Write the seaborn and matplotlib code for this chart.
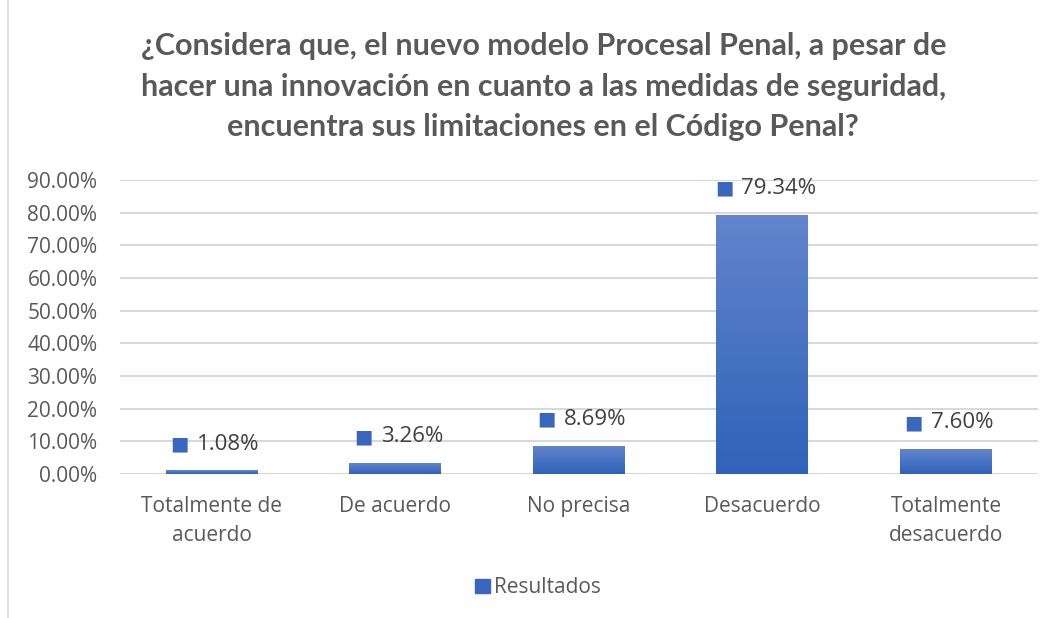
import numpy as np
import pandas as pd
import matplotlib
matplotlib.use("Agg")
import matplotlib.pyplot as plt
import seaborn as sns

# data
categorias = ["Totalmente de\nacuerdo", "De acuerdo", "No precisa", "Desacuerdo", "Totalmente\ndesacuerdo"]
resultados = [0.0108, 0.0326, 0.0869, 0.7934, 0.0760]
yticks = [0.0, 0.1, 0.2, 0.3, 0.4, 0.5, 0.6, 0.7, 0.8, 0.9]
titulo = ("¿Considera que, el nuevo modelo Procesal Penal, a pesar de\n"
          "hacer una innovación en cuanto a las medidas de seguridad,\n"
          "encuentra sus limitaciones en el Código Penal?")

sns.set_style("white")
plt.rcParams['font.family'] = ['Open Sans', 'DejaVu Sans']

df = pd.DataFrame({'Categoria': categorias, 'Resultados': resultados})
azul = '#4472C4'
gris = '#595959'

fig = plt.figure(figsize=(10.59, 6.18), dpi=100)
ax = fig.add_axes([0.113, 0.233, 0.867, 0.476])

sns.barplot(data=df, x='Categoria', y='Resultados', color=azul, width=0.5,
            saturation=1, ax=ax, zorder=3)

# gradient fill on the bars (lighter on top, darker at the bottom)
grad = np.linspace(0, 1, 256).reshape(-1, 1)
cmap = matplotlib.colors.LinearSegmentedColormap.from_list('g', ['#2F62B9', '#6385CC'])
for p in ax.patches:
    x0, y0 = p.get_x(), p.get_y()
    w, h = p.get_width(), p.get_height()
    p.set_facecolor('none')
    p.set_edgecolor('none')
    im = ax.imshow(grad, cmap=cmap, aspect='auto', origin='lower',
                   extent=[x0, x0 + w, y0, y0 + h], zorder=3)
    im.set_clip_path(p)

ax.set_ylim(0, 0.9)
ax.set_xlim(-0.5, len(categorias) - 0.5)
ax.set_yticks(yticks)
ax.set_yticklabels(['{:.2f}%'.format(v * 100) for v in yticks], fontsize=15, color=gris)
ax.tick_params(axis='x', labelsize=15, labelcolor=gris, length=0, pad=16)
ax.tick_params(axis='y', length=0, pad=16)
for t in ax.get_xticklabels():
    t.set_linespacing(1.5)
ax.set_xlabel('')
ax.set_ylabel('')
ax.yaxis.grid(True, color='#d9d9d9', linewidth=1.5, zorder=0)
for s in ax.spines.values():
    s.set_visible(False)

# data labels with square keys (key sits just left of the text)
for i, v in enumerate(resultados):
    txt = ax.annotate('{:.2f}%'.format(v * 100), xy=(i, v), xytext=(12, 19),
                      textcoords='offset points', ha='center', va='center',
                      fontsize=16, color='#404040', zorder=5)
    ax.annotate('■', xy=(0, 0.5), xycoords=txt, xytext=(-6, 0),
                textcoords='offset points', ha='right', va='center',
                fontsize=14, color='#3A67BE', family='DejaVu Sans', zorder=5)

handle = plt.Rectangle((0, 0), 1, 1, color='#3A67BE')
fig.legend([handle], ['Resultados'], loc='center', bbox_to_anchor=(0.508, 0.049),
           frameon=False, fontsize=15, labelcolor=gris, handlelength=0.7,
           handleheight=0.7, handletextpad=0.2)

fig.text(0.513, 0.948, titulo, ha='center', va='top', fontsize=22, fontweight='bold',
         color=gris, linespacing=1.55, family=['Lato', 'DejaVu Sans'])

# light frame like the original chart area
fig.patches.append(plt.Rectangle((0.008, -0.01), 1.5, 1.5, transform=fig.transFigure,
                                 fill=False, edgecolor='#d9d9d9', linewidth=1.2))

fig.savefig('out.png', dpi=100)
